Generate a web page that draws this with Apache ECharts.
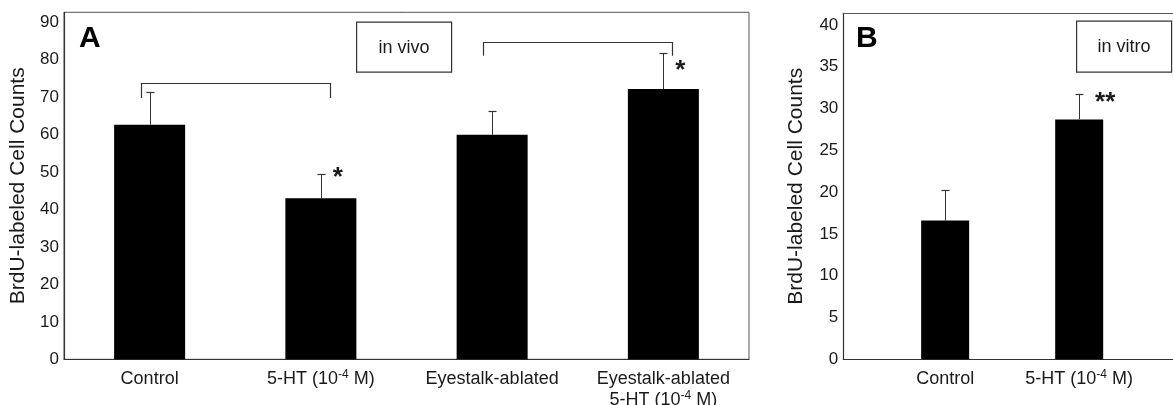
<!DOCTYPE html>
<html>
<head>
<meta charset="utf-8">
<script src="https://cdn.jsdelivr.net/npm/echarts@6/dist/echarts.min.js"></script>
<style>
  html, body { margin: 0; padding: 0; background: #fff; }
  #chart { width: 1173px; height: 405px; }
</style>
</head>
<body>
<div id="chart"></div>
<script>
// ---- Panel A: in vivo BrdU counts ----
const categoriesA = ['Control', '5-HT (10{sup|-4} M)', 'Eyestalk-ablated', 'Eyestalk-ablated\n5-HT (10{sup|-4} M)'];
const meansA = [62.6, 43.0, 59.9, 72.1];
const errTopA = [71.3, 49.5, 66.3, 81.7];
// [from category, to category, bracket top, leg end]
const bracketsA = [[0, 1, 73.7, 69.7], [2, 3, 84.8, 81.0]];
// [category, level, text]
const starsA = [[1, 50.0, '*'], [3, 78.6, '*']];

// ---- Panel B: in vitro BrdU counts ----
const categoriesB = ['Control', '5-HT (10{sup|-4} M)'];
const meansB = [16.6, 28.7];
const errTopB = [20.3, 31.8];
const starsB = [[1, 31.35, '**']];

const FONT = '"Liberation Sans", Arial, Helvetica, sans-serif';
const INK = '#1a1a1a';
const LINE = '#333';

const richSup = {
  sup: { fontSize: 12, lineHeight: 12, verticalAlign: 'top', fontFamily: FONT, color: INK }
};

function crisp(v) { return Math.round(v) + 0.5; }

function errorRender(params, api) {
  const x = api.value(0), base = api.value(1), top = api.value(2);
  const p0 = api.coord([x, base]);
  const p1 = api.coord([x, top]);
  const cx = crisp(p0[0]);
  const half = 4;
  return {
    type: 'group',
    children: [
      { type: 'line', shape: { x1: cx, y1: p0[1], x2: cx, y2: crisp(p1[1]) }, style: { stroke: LINE, lineWidth: 1 } },
      { type: 'line', shape: { x1: cx - half, y1: crisp(p1[1]), x2: cx + half, y2: crisp(p1[1]) }, style: { stroke: LINE, lineWidth: 1.2 } }
    ]
  };
}

function bracketRender(params, api) {
  const a = api.coord([api.value(0), api.value(2)]);
  const b = api.coord([api.value(1), api.value(2)]);
  const leg = api.coord([api.value(0), api.value(3)])[1];
  const lx = crisp(a[0] - 9), rx = crisp(b[0] + 9), ty = crisp(a[1]);
  return {
    type: 'polyline',
    shape: { points: [[lx, leg], [lx, ty], [rx, ty], [rx, leg]] },
    style: { stroke: LINE, lineWidth: 1.2, fill: null }
  };
}

const starsText = { starsA: starsA.map(s => s[2]), starsB: starsB.map(s => s[2]) };
function starRender(dx, size) {
  return function (params, api) {
    const p = api.coord([api.value(0), api.value(1)]);
    return {
      type: 'text',
      x: p[0] + dx,
      y: p[1] + size * 0.22,
      style: {
        text: starsText[params.seriesName][params.dataIndex],
        font: 'bold ' + size + 'px ' + FONT,
        fill: INK,
        align: 'center',
        verticalAlign: 'middle'
      }
    };
  };
}

const chart = echarts.init(document.getElementById('chart'), null, { renderer: 'canvas' });

const yLabelStyle = { fontSize: 17, color: INK, fontFamily: FONT, margin: 5 };
const xLabelStyle = { fontSize: 18, lineHeight: 21, color: INK, fontFamily: FONT, margin: 9, rich: richSup };
const nameStyle = { fontSize: 21, color: INK, fontFamily: FONT };

chart.setOption({
  animation: false,
  backgroundColor: '#fff',
  grid: [
    { left: 64, right: 424, top: 12.3, bottom: 45.7, show: true, borderColor: '#555', borderWidth: 1,
      containLabel: false, outerBoundsMode: 'none' },
    { left: 843.3, right: 0, top: 13.3, bottom: 45.7, show: false,
      containLabel: false, outerBoundsMode: 'none' }
  ],
  xAxis: [
    {
      gridIndex: 0, type: 'category', data: categoriesA,
      axisLine: { lineStyle: { color: LINE, width: 1.2 } },
      axisTick: { show: false },
      axisLabel: Object.assign({ interval: 0 }, xLabelStyle),
      splitLine: { show: false }
    },
    {
      gridIndex: 1, type: 'value', min: 0.24, max: 2.7,
      axisLine: { show: true, onZero: false, lineStyle: { color: LINE, width: 1.2 } },
      axisTick: { show: false },
      splitLine: { show: false },
      axisLabel: Object.assign({
        customValues: categoriesB.map((c, i) => i + 1),
        formatter: v => categoriesB[Math.round(v) - 1] || ''
      }, xLabelStyle)
    },
    {
      // top frame edge of panel B
      gridIndex: 1, type: 'value', position: 'top', min: 0.24, max: 2.7,
      axisLine: { show: true, onZero: false, lineStyle: { color: '#555', width: 1 } },
      axisTick: { show: false }, axisLabel: { show: false }, splitLine: { show: false }
    }
  ],
  yAxis: [
    {
      gridIndex: 0, type: 'value', min: 0, max: 92.6, interval: 10,
      name: 'BrdU-labeled Cell Counts', nameLocation: 'middle', nameGap: 25,
      nameTextStyle: nameStyle,
      axisLine: { show: true, lineStyle: { color: LINE, width: 1.2 } },
      axisTick: { show: false },
      splitLine: { show: false },
      axisLabel: Object.assign({ showMaxLabel: false }, yLabelStyle)
    },
    {
      gridIndex: 1, type: 'value', min: 0, max: 41.4, interval: 5,
      name: 'BrdU-labeled Cell Counts', nameLocation: 'middle', nameGap: 37,
      nameTextStyle: nameStyle,
      axisLine: { show: true, lineStyle: { color: LINE, width: 1.2 } },
      axisTick: { show: false },
      splitLine: { show: false },
      axisLabel: Object.assign({ showMaxLabel: false }, yLabelStyle)
    }
  ],
  graphic: [
    { type: 'text', left: 79, top: 24, style: { text: 'A', font: 'bold 30px ' + FONT, fill: '#000' } },
    { type: 'text', left: 856, top: 24, style: { text: 'B', font: 'bold 30px ' + FONT, fill: '#000' } },
    {
      type: 'group', left: 356, top: 21.5,
      children: [
        { type: 'rect', shape: { x: 0.5, y: 0.5, width: 95, height: 50 }, style: { fill: '#fff', stroke: LINE, lineWidth: 1.2 } },
        { type: 'text', x: 48, y: 26, style: { text: 'in vivo', font: '18px ' + FONT, fill: INK, align: 'center', verticalAlign: 'middle' } }
      ]
    },
    {
      type: 'group', left: 1076, top: 20.5,
      children: [
        { type: 'rect', shape: { x: 0.5, y: 0.5, width: 95, height: 51 }, style: { fill: '#fff', stroke: LINE, lineWidth: 1.2 } },
        { type: 'text', x: 48, y: 26, style: { text: 'in vitro', font: '18px ' + FONT, fill: INK, align: 'center', verticalAlign: 'middle' } }
      ]
    }
  ],
  series: [
    {
      type: 'bar', xAxisIndex: 0, yAxisIndex: 0, data: meansA,
      barWidth: 71, itemStyle: { color: '#000' }, silent: true
    },
    {
      type: 'custom', xAxisIndex: 0, yAxisIndex: 0,
      data: meansA.map((m, i) => [i, m, errTopA[i]]),
      encode: { x: 0, y: [1, 2] }, renderItem: errorRender, silent: true, z: 3
    },
    {
      type: 'custom', xAxisIndex: 0, yAxisIndex: 0,
      data: bracketsA, encode: { x: [0, 1], y: [2, 3] }, renderItem: bracketRender, silent: true
    },
    {
      type: 'custom', name: 'starsA', xAxisIndex: 0, yAxisIndex: 0,
      data: starsA.map(s => [s[0], s[1]]), encode: { x: 0, y: 1 },
      renderItem: starRender(17, 26), silent: true
    },
    {
      type: 'bar', xAxisIndex: 1, yAxisIndex: 1,
      data: meansB.map((m, i) => [i + 1, m]),
      barWidth: 48, itemStyle: { color: '#000' }, silent: true
    },
    {
      type: 'custom', xAxisIndex: 1, yAxisIndex: 1,
      data: meansB.map((m, i) => [i + 1, m, errTopB[i]]),
      encode: { x: 0, y: [1, 2] }, renderItem: errorRender, silent: true, z: 3
    },
    {
      type: 'custom', name: 'starsB', xAxisIndex: 1, yAxisIndex: 1,
      data: starsB.map(s => [s[0] + 1, s[1]]), encode: { x: 0, y: 1 },
      renderItem: starRender(26, 26), silent: true
    }
  ]
});
</script>
</body>
</html>
